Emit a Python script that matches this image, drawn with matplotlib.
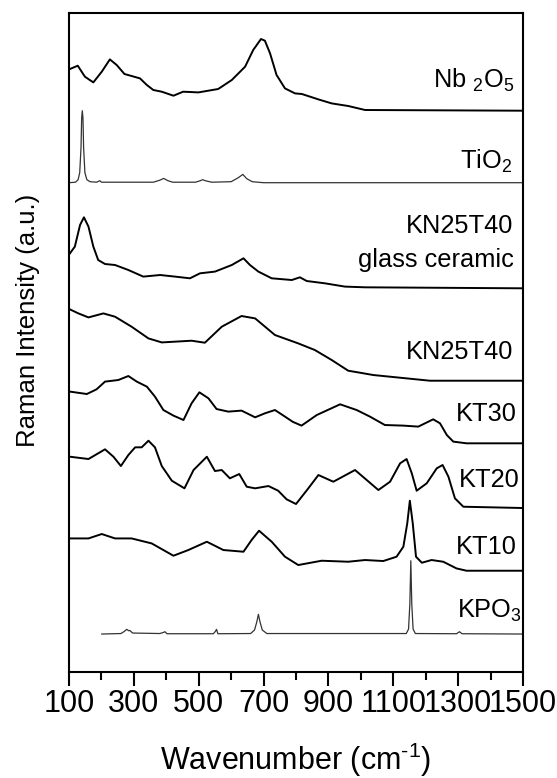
import matplotlib.pyplot as plt
from matplotlib.ticker import MultipleLocator
import numpy as np

plt.rcParams['font.family'] = ['Liberation Sans', 'DejaVu Sans']
plt.rcParams['mathtext.fontset'] = 'custom'
plt.rcParams['mathtext.rm'] = 'Liberation Sans'

# spectra: wavenumber (cm-1) and intensity above own baseline (a.u.)
nb_w = [100, 127, 149, 175, 201, 226, 247, 271, 293, 319, 340, 360, 386, 422, 452, 499, 560, 602, 643, 668, 692, 704, 720, 740, 766, 797, 818, 869, 910, 961, 1013, 1500]
nb_i = [41.3, 45, 34, 28.3, 39, 51.3, 45.7, 36.7, 34.7, 32.3, 25.7, 20.7, 19, 15, 19, 18.3, 21.7, 30.7, 44, 60.7, 71.7, 70, 57.3, 35.7, 22.3, 17.3, 16.7, 11.3, 7.3, 4.7, 0.7, 0]

ti_w = [100, 120, 128, 133, 137, 139, 141, 143, 145, 149, 155, 165, 185, 195, 200, 360, 380, 392, 405, 420, 490, 505, 512, 520, 540, 600, 622, 636, 648, 665, 700, 1500]
ti_i = [0, 0.5, 3, 10, 35, 65, 72, 65, 35, 10, 3, 1, 0.5, 2, 0.5, 0.5, 2.5, 4.3, 2, 0.5, 0.5, 2, 3, 2, 0.5, 1, 5, 8.3, 4, 1, 0, 0]

gc_w = [103, 118, 134, 146, 160, 175, 190, 211, 242, 283, 329, 381, 427, 473, 504, 550, 602, 638, 658, 684, 725, 787, 812, 833, 889, 951, 1013, 1500]
gc_i = [35, 41.7, 63.3, 71, 61.7, 41.7, 28.3, 24.3, 23.3, 18.3, 11.7, 13.3, 11.7, 10, 15, 16.7, 23.3, 30, 23.3, 16.7, 10, 8.3, 11, 7.3, 5, 1.7, 1, 0]

kn_w = [103, 129, 160, 206, 242, 293, 345, 386, 478, 519, 571, 632, 674, 735, 807, 858, 910, 961, 992, 1038, 1213, 1500]
kn_i = [71.3, 67.3, 63.3, 67.3, 64, 54, 42.3, 38.3, 40, 38, 54, 64.7, 62.3, 45.7, 37.3, 30.7, 20.7, 10, 8.3, 5.7, 0, 0]

kt30_w = [103, 155, 185, 211, 252, 283, 309, 340, 365, 391, 422, 453, 478, 502, 530, 555, 591, 632, 674, 704, 735, 766, 790, 817, 864, 936, 987, 1028, 1074, 1131, 1177, 1223, 1244, 1265, 1285, 1326, 1500]
kt30_i = [51.7, 49.3, 54, 61.7, 63.3, 67.3, 61.7, 56.7, 46.7, 33.3, 27.7, 23.3, 40, 51, 45, 34.3, 31.7, 32.7, 26, 30, 33.3, 26.7, 21.5, 17.7, 28.3, 39, 33.3, 26.7, 18.3, 17.7, 16.7, 24, 20, 8.3, 1.7, 0, 0]

kt20_w = [103, 160, 211, 237, 260, 283, 304, 324, 345, 365, 386, 417, 456, 484, 525, 550, 571, 596, 625, 648, 674, 715, 745, 771, 800, 838, 869, 915, 982, 1018, 1054, 1090, 1121, 1141, 1157, 1172, 1203, 1234, 1252, 1270, 1290, 1316, 1500]
kt20_i = [51.3, 49, 58.7, 51.3, 42, 53, 60.7, 60.7, 67.3, 60.7, 42, 27.3, 19.7, 38, 51.3, 37, 38, 29.7, 34, 21.3, 19.7, 22, 17.3, 8.7, 4, 19.7, 33, 26.3, 38, 28, 18, 26.3, 44.7, 49, 34.7, 17.3, 24.7, 39.7, 43, 31.3, 9.7, 1.3, 0]

kt10_w = [103, 160, 201, 242, 293, 355, 391, 422, 468, 525, 576, 638, 663, 686, 725, 766, 807, 879, 961, 1013, 1069, 1110, 1131, 1143, 1151, 1160, 1170, 1188, 1218, 1254, 1295, 1326, 1500]
kt10_i = [32.3, 32.3, 36.7, 32.3, 32.3, 27.3, 20.7, 15, 20.7, 29, 20.7, 19, 30.7, 40, 29, 14, 5.7, 10, 9, 10.7, 9.7, 14, 24, 47.3, 70, 47.3, 14, 8, 10.7, 9, 2.3, 0, 0]

kp_w = [201, 260, 270, 278, 284, 288, 296, 380, 390, 396, 402, 545, 551, 555, 559, 660, 672, 679, 684, 689, 696, 710, 1140, 1147, 1151, 1154, 1157, 1161, 1168, 1295, 1304, 1312, 1500]
kp_i = [0, 0.5, 2.5, 4.7, 3.3, 3.5, 1, 0.5, 1.5, 2.3, 0.3, 0.3, 2.5, 4.7, 0.3, 0.5, 4, 12, 19.7, 12, 4, 0.5, 0.5, 5, 30, 73.3, 30, 5, 0.5, 0.3, 2.3, 0.3, 0]

spectra = [(nb_w, nb_i), (ti_w, ti_i), (gc_w, gc_i), (kn_w, kn_i),
           (kt30_w, kt30_i), (kt20_w, kt20_i), (kt10_w, kt10_i), (kp_w, kp_i)]
offsets = [561.3, 489.3, 383.7, 291.3, 228.7, 164, 101.3, 38]
labels = ["Nb $_2$O$_5$", "TiO$_2$", "KN25T40\nglass ceramic", "KN25T40",
          "KT30", "KT20", "KT10", "KPO$_3$"]
label_y = [592, 511, 429, 320, 258, 192, 125, 61]
label_x = [1475, 1465, 1471, 1471, 1482, 1490, 1482, 1497]

fig = plt.figure(figsize=(5.57, 7.78), dpi=100)
ax = fig.add_axes([0.1239, 0.1362, 0.8151, 0.8471])

for k, (w, i) in enumerate(spectra):
    thin = k in (1, 7)
    ax.plot(w, np.array(i) + offsets[k], color="#333333" if thin else "black",
            lw=0.9 if thin else 1.4)
    ax.text(label_x[k], label_y[k], labels[k], ha="right", va="center",
            fontsize=18.3, linespacing=1.5)

ax.set_xlim(100, 1500)
ax.set_ylim(0, 659)
ax.xaxis.set_minor_locator(MultipleLocator(100))
ax.set_xticks(np.arange(100, 1501, 200))
ax.set_yticks([])
ax.tick_params(axis="x", which="major", direction="out", length=10, width=1.5, labelsize=22, pad=2)
ax.tick_params(axis="x", which="minor", direction="out", length=6, width=1.5)
for s in ax.spines.values():
    s.set_linewidth(1.5)

ax.set_xlabel("Wavenumber (cm$^{\u2010 1}$)", fontsize=22, labelpad=16)
ax.set_ylabel("Raman Intensity (a.u.)", fontsize=18.5)
ax.yaxis.set_label_coords(-0.064, 0.534)

fig.savefig("out.png", dpi=100)
